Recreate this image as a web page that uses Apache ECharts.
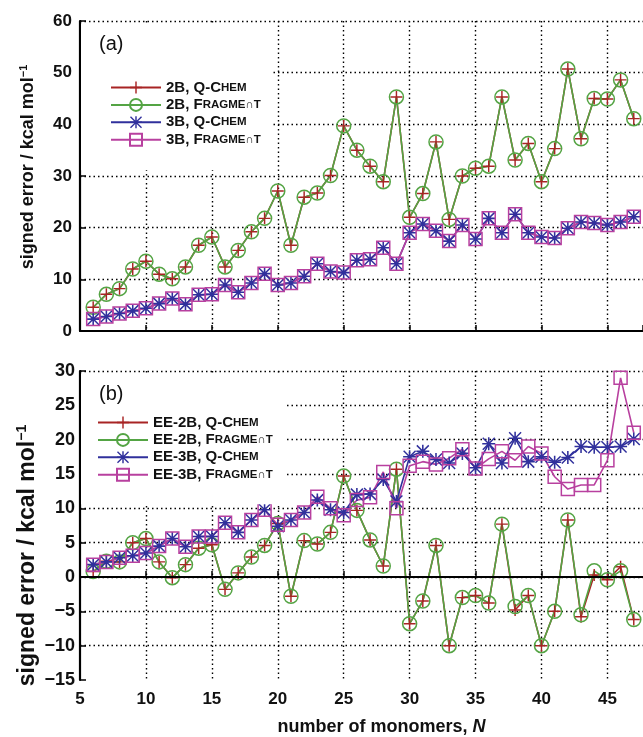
<!DOCTYPE html>
<html>
<head>
<meta charset="utf-8">
<script src="https://cdn.jsdelivr.net/npm/echarts@6/dist/echarts.min.js"></script>
<style>
    html, body { margin: 0; padding: 0; background: #ffffff; }
    #chart { width: 643px; height: 737px; }
</style>
</head>
<body>
<div id="chart"></div>
<script>
// number of monomers
var monomers = [6, 7, 8, 9, 10, 11, 12, 13, 14, 15, 16, 17, 18, 19, 20, 21, 22, 23, 24, 25, 26,
    27, 28, 29, 30, 31, 32, 33, 34, 35, 36, 37, 38, 39, 40, 41, 42, 43, 44, 45, 46, 47];

// panel (a)
var qchem2B = [4.6, 7.1, 8.2, 12.0, 13.5, 11.0, 10.1, 12.4, 16.6, 18.2, 12.4, 15.6, 19.2, 21.8, 27.1,
    16.6, 25.9, 26.7, 30.1, 39.7, 35.0, 31.9, 28.9, 45.3, 22.0, 26.6, 36.6, 21.6, 30.0, 31.5, 31.9,
    45.3, 33.1, 36.3, 28.9, 35.3, 50.7, 37.2, 45.0, 44.9, 48.6, 41.1];
var fragment2B = [4.6, 7.1, 8.2, 12.0, 13.5, 11.0, 10.1, 12.4, 16.6, 18.2, 12.4, 15.6, 19.2, 21.8, 27.1,
    16.6, 25.9, 26.7, 30.1, 39.7, 35.0, 31.9, 28.9, 45.3, 22.0, 26.6, 36.6, 21.6, 30.0, 31.5, 31.9,
    45.3, 33.1, 36.3, 28.9, 35.3, 50.7, 37.2, 45.0, 44.9, 48.6, 41.1];
var qchem3B = [2.3, 2.8, 3.4, 3.9, 4.4, 5.3, 6.3, 5.2, 7.0, 7.1, 8.9, 7.5, 9.3, 11.1, 8.9, 9.3, 10.6,
    13.0, 11.5, 11.3, 13.7, 13.9, 16.1, 13.0, 19.0, 20.7, 19.4, 17.4, 20.5, 17.8, 21.8, 19.0, 22.6,
    19.0, 18.2, 18.0, 19.9, 21.1, 20.9, 20.5, 21.1, 22.1];
var fragment3B = [2.3, 2.8, 3.4, 3.9, 4.4, 5.3, 6.3, 5.2, 7.0, 7.1, 8.9, 7.5, 9.3, 11.1, 8.9, 9.3, 10.6,
    13.0, 11.5, 11.3, 13.7, 13.9, 16.1, 13.0, 19.0, 20.7, 19.4, 17.4, 20.5, 17.8, 21.8, 19.0, 22.6,
    19.0, 18.2, 18.0, 19.9, 21.1, 20.9, 20.5, 21.1, 22.1];

// panel (b)
var qchemEE2B = [0.8, 2.3, 2.2, 5.0, 5.6, 2.2, -0.1, 1.8, 4.2, 4.7, -1.8, 0.6, 2.9, 4.6, 7.8, -2.8,
    5.3, 4.8, 6.5, 14.7, 9.7, 5.4, 1.6, 15.7, -6.8, -3.5, 4.6, -10.0, -3.0, -2.7, -3.8, 7.7, -4.8,
    -2.7, -10.0, -5.0, 8.3, -5.8, 0.3, -0.4, 1.5, -6.2];
var fragmentEE2B = [0.8, 2.3, 2.2, 5.0, 5.6, 2.2, -0.1, 1.8, 4.2, 4.7, -1.8, 0.6, 2.9, 4.6, 7.8, -2.8,
    5.3, 4.8, 6.5, 14.7, 9.7, 5.4, 1.6, 15.7, -6.8, -3.5, 4.6, -10.0, -3.0, -2.7, -3.8, 7.7, -4.3,
    -2.7, -10.0, -5.0, 8.3, -5.5, 0.9, -0.4, 0.9, -6.2];
var qchemEE3B = [1.8, 2.2, 2.8, 3.1, 3.5, 4.5, 5.6, 4.4, 5.9, 5.9, 7.9, 6.5, 8.3, 9.8, 7.4, 8.3, 9.4,
    11.2, 9.8, 9.4, 12.0, 12.1, 14.2, 11.0, 17.5, 18.3, 17.1, 16.6, 18.0, 15.9, 19.4, 16.6, 20.2,
    16.8, 17.5, 16.7, 17.4, 19.0, 18.9, 18.9, 19.0, 20.1];
var fragmentEE3B = [1.8, 2.2, 2.8, 3.1, 3.5, 4.5, 5.6, 4.4, 5.9, 5.9, 7.9, 6.5, 8.3, 9.8, 7.6, 8.3, 9.4,
    11.7, 10.0, 9.0, 11.2, 11.6, 15.3, 10.0, 16.2, 16.8, 16.4, 17.3, 18.6, 15.8, 17.2, 18.3, 17.0,
    19.0, 18.0, 14.6, 12.8, 13.4, 13.4, 17.0, 29.0, 21.0];

var xTicks = [5, 10, 15, 20, 25, 30, 35, 40, 45];

var FONT = 'Liberation Sans, Arial, sans-serif';
var RED = '#a82424';
var GREEN = '#54a444';
var BLUE = '#30309c';
var MAGENTA = '#b8409f';

var PLUS = 'path://M0,4.4H10V5.6H0Z M4.4,0H5.6V10H4.4Z';
var STAR = 'path://M0,4.4H10V5.6H0Z M4.4,0H5.6V10H4.4Z M0.8,0L10,9.2L9.2,10L0,0.8Z M10,0.8L0.8,10L0,9.2L9.2,0Z';

/**
 * legend text with small caps
 */
var legendText = {
    '2B, Q-Chem': '{b|2B, Q-C}{s|HEM}',
    '2B, FragmeNt': '{b|2B, F}{s|RAGME\u2229T}',
    '3B, Q-Chem': '{b|3B, Q-C}{s|HEM}',
    '3B, FragmeNt': '{b|3B, F}{s|RAGME\u2229T}',
    'EE-2B, Q-Chem': '{b|EE-2B, Q-C}{s|HEM}',
    'EE-2B, FragmeNt': '{b|EE-2B, F}{s|RAGME\u2229T}',
    'EE-3B, Q-Chem': '{b|EE-3B, Q-C}{s|HEM}',
    'EE-3B, FragmeNt': '{b|EE-3B, F}{s|RAGME\u2229T}'
};

var styles = {
    plus: { symbol: PLUS, size: 12, line: RED, item: { color: RED } },
    circle: { symbol: 'circle', size: 14, line: GREEN,
        item: { color: 'rgba(0,0,0,0)', borderColor: GREEN, borderWidth: 1.5 } },
    star: { symbol: STAR, size: 13, line: BLUE, item: { color: BLUE } },
    square: { symbol: 'rect', size: 13, line: MAGENTA,
        item: { color: 'rgba(0,0,0,0)', borderColor: MAGENTA, borderWidth: 1.5 } }
};

function pairs(values) {
    var out = [];
    for (var i = 0; i < monomers.length; i++) {
        out.push([monomers[i], values[i]]);
    }
    return out;
}

function makeSeries(name, values, styleName, panel) {
    var st = styles[styleName];
    return {
        name: name,
        type: 'line',
        xAxisIndex: panel,
        yAxisIndex: panel,
        data: pairs(values),
        symbol: st.symbol,
        symbolSize: st.size,
        showAllSymbol: true,
        lineStyle: { color: st.line, width: 1.6 },
        itemStyle: st.item,
        emphasis: { disabled: true },
        animation: false
    };
}

function makeLegend(names, top, padding) {
    return {
        data: names,
        orient: 'vertical',
        left: 81,
        top: top,
        padding: padding,
        itemWidth: 50,
        itemHeight: 15,
        itemGap: 2.4,
        backgroundColor: '#ffffff',
        selectedMode: false,
        formatter: function (name) {
            return legendText[name];
        },
        textStyle: {
            rich: {
                b: { fontFamily: FONT, fontWeight: 'bold', fontSize: 15, color: '#111' },
                s: { fontFamily: FONT, fontWeight: 'bold', fontSize: 11.5, color: '#111' }
            }
        }
    };
}

function makeXAxis(panel, showLabels) {
    return {
        type: 'value',
        gridIndex: panel,
        min: 5,
        max: 47.7,
        interval: 5,
        axisLine: { lineStyle: { color: '#000', width: 2 } },
        axisTick: { inside: true, length: 6, lineStyle: { color: '#000', width: 1.5 } },
        axisLabel: {
            show: showLabels,
            showMaxLabel: false,
            margin: 11,
            color: '#111',
            fontFamily: FONT,
            fontWeight: 'bold',
            fontSize: 17,
            formatter: function (v) {
                return xTicks.indexOf(v) >= 0 ? String(v) : '';
            }
        },
        splitLine: {
            show: true,
            showMinLine: false,
            showMaxLine: false,
            lineStyle: { color: '#000', type: [1.5, 3], width: 1.4 }
        },
        name: showLabels ? '{n|number of monomers, }{i|N}' : '',
        nameLocation: 'middle',
        nameGap: 38,
        nameTextStyle: {
            padding: [0, 0, 0, 40],
            rich: {
                n: { fontFamily: FONT, fontWeight: 'bold', fontSize: 18, color: '#111' },
                i: { fontFamily: FONT, fontWeight: 'bold', fontStyle: 'italic', fontSize: 18, color: '#111' }
            }
        }
    };
}

function makeYAxis(panel, min, max, interval, labelSize, labelMargin, nameSize, nameGap, namePadding) {
    return {
        type: 'value',
        gridIndex: panel,
        min: min,
        max: max,
        interval: interval,
        axisLine: { show: true, lineStyle: { color: '#000', width: 2.2 } },
        axisTick: { show: true, inside: true, length: 6, lineStyle: { color: '#000', width: 1.5 } },
        axisLabel: {
            margin: labelMargin,
            color: '#111',
            fontFamily: FONT,
            fontWeight: 'bold',
            fontSize: labelSize,
            formatter: function (v) {
                return v < 0 ? '\u2212' + Math.abs(v) : String(v);
            }
        },
        splitLine: {
            show: true,
            showMinLine: false,
            lineStyle: { color: '#000', type: [1.5, 3], width: 1.4 }
        },
        name: '{n|signed error / kcal mol}{sup|\u22121}',
        nameLocation: 'middle',
        nameGap: nameGap,
        nameMoveOverlap: false,
        nameTextStyle: {
            padding: namePadding,
            rich: {
                n: { fontFamily: FONT, fontWeight: 'bold', fontSize: nameSize, color: '#111', lineHeight: nameSize + 2 },
                sup: { fontFamily: FONT, fontWeight: 'bold', fontSize: Math.round(nameSize * 0.62), color: '#111',
                    verticalAlign: 'top', lineHeight: nameSize + 2, padding: [0, 0, Math.round(nameSize * 0.55), 0] }
            }
        }
    };
}

var seriesA = [
    makeSeries('2B, Q-Chem', qchem2B, 'plus', 0),
    makeSeries('2B, FragmeNt', fragment2B, 'circle', 0),
    makeSeries('3B, Q-Chem', qchem3B, 'star', 0),
    makeSeries('3B, FragmeNt', fragment3B, 'square', 0)
];
var seriesB = [
    makeSeries('EE-2B, Q-Chem', qchemEE2B, 'plus', 1),
    makeSeries('EE-2B, FragmeNt', fragmentEE2B, 'circle', 1),
    makeSeries('EE-3B, Q-Chem', qchemEE3B, 'star', 1),
    makeSeries('EE-3B, FragmeNt', fragmentEE3B, 'square', 1)
];

// solid zero line in panel (b)
seriesB[0].markLine = {
    silent: true,
    symbol: 'none',
    label: { show: false },
    lineStyle: { color: '#000', type: 'solid', width: 2 },
    data: [{ yAxis: 0 }],
    animation: false
};

var chart = echarts.init(document.getElementById('chart'));
var option = {
    backgroundColor: '#ffffff',
    animation: false,
    title: [
        { text: '(a)', left: 94, top: 29,
            textStyle: { fontFamily: FONT, fontWeight: 'normal', fontSize: 20, color: '#111' } },
        { text: '(b)', left: 94, top: 379,
            textStyle: { fontFamily: FONT, fontWeight: 'normal', fontSize: 20, color: '#111' } }
    ],
    legend: [
        makeLegend(['2B, Q-Chem', '2B, FragmeNt', '3B, Q-Chem', '3B, FragmeNt'], 24, [56, 12, 23, 29]),
        makeLegend(['EE-2B, Q-Chem', 'EE-2B, FragmeNt', 'EE-3B, Q-Chem', 'EE-3B, FragmeNt'], 374, [41, 14, 22, 16])
    ],
    grid: [
        { left: 80, top: 21, right: 0, height: 310 },
        { left: 80, top: 371, right: 0, height: 310 }
    ],
    xAxis: [makeXAxis(0, false), makeXAxis(1, true)],
    yAxis: [
        makeYAxis(0, 0, 60, 10, 17, 8, 18, 42, [0, 0, 0, 18]),
        makeYAxis(1, -15, 30, 5, 18, 5, 23, 40, [0, 60, 0, 0])
    ],
    series: seriesA.concat(seriesB)
};
chart.setOption(option);
</script>
</body>
</html>
